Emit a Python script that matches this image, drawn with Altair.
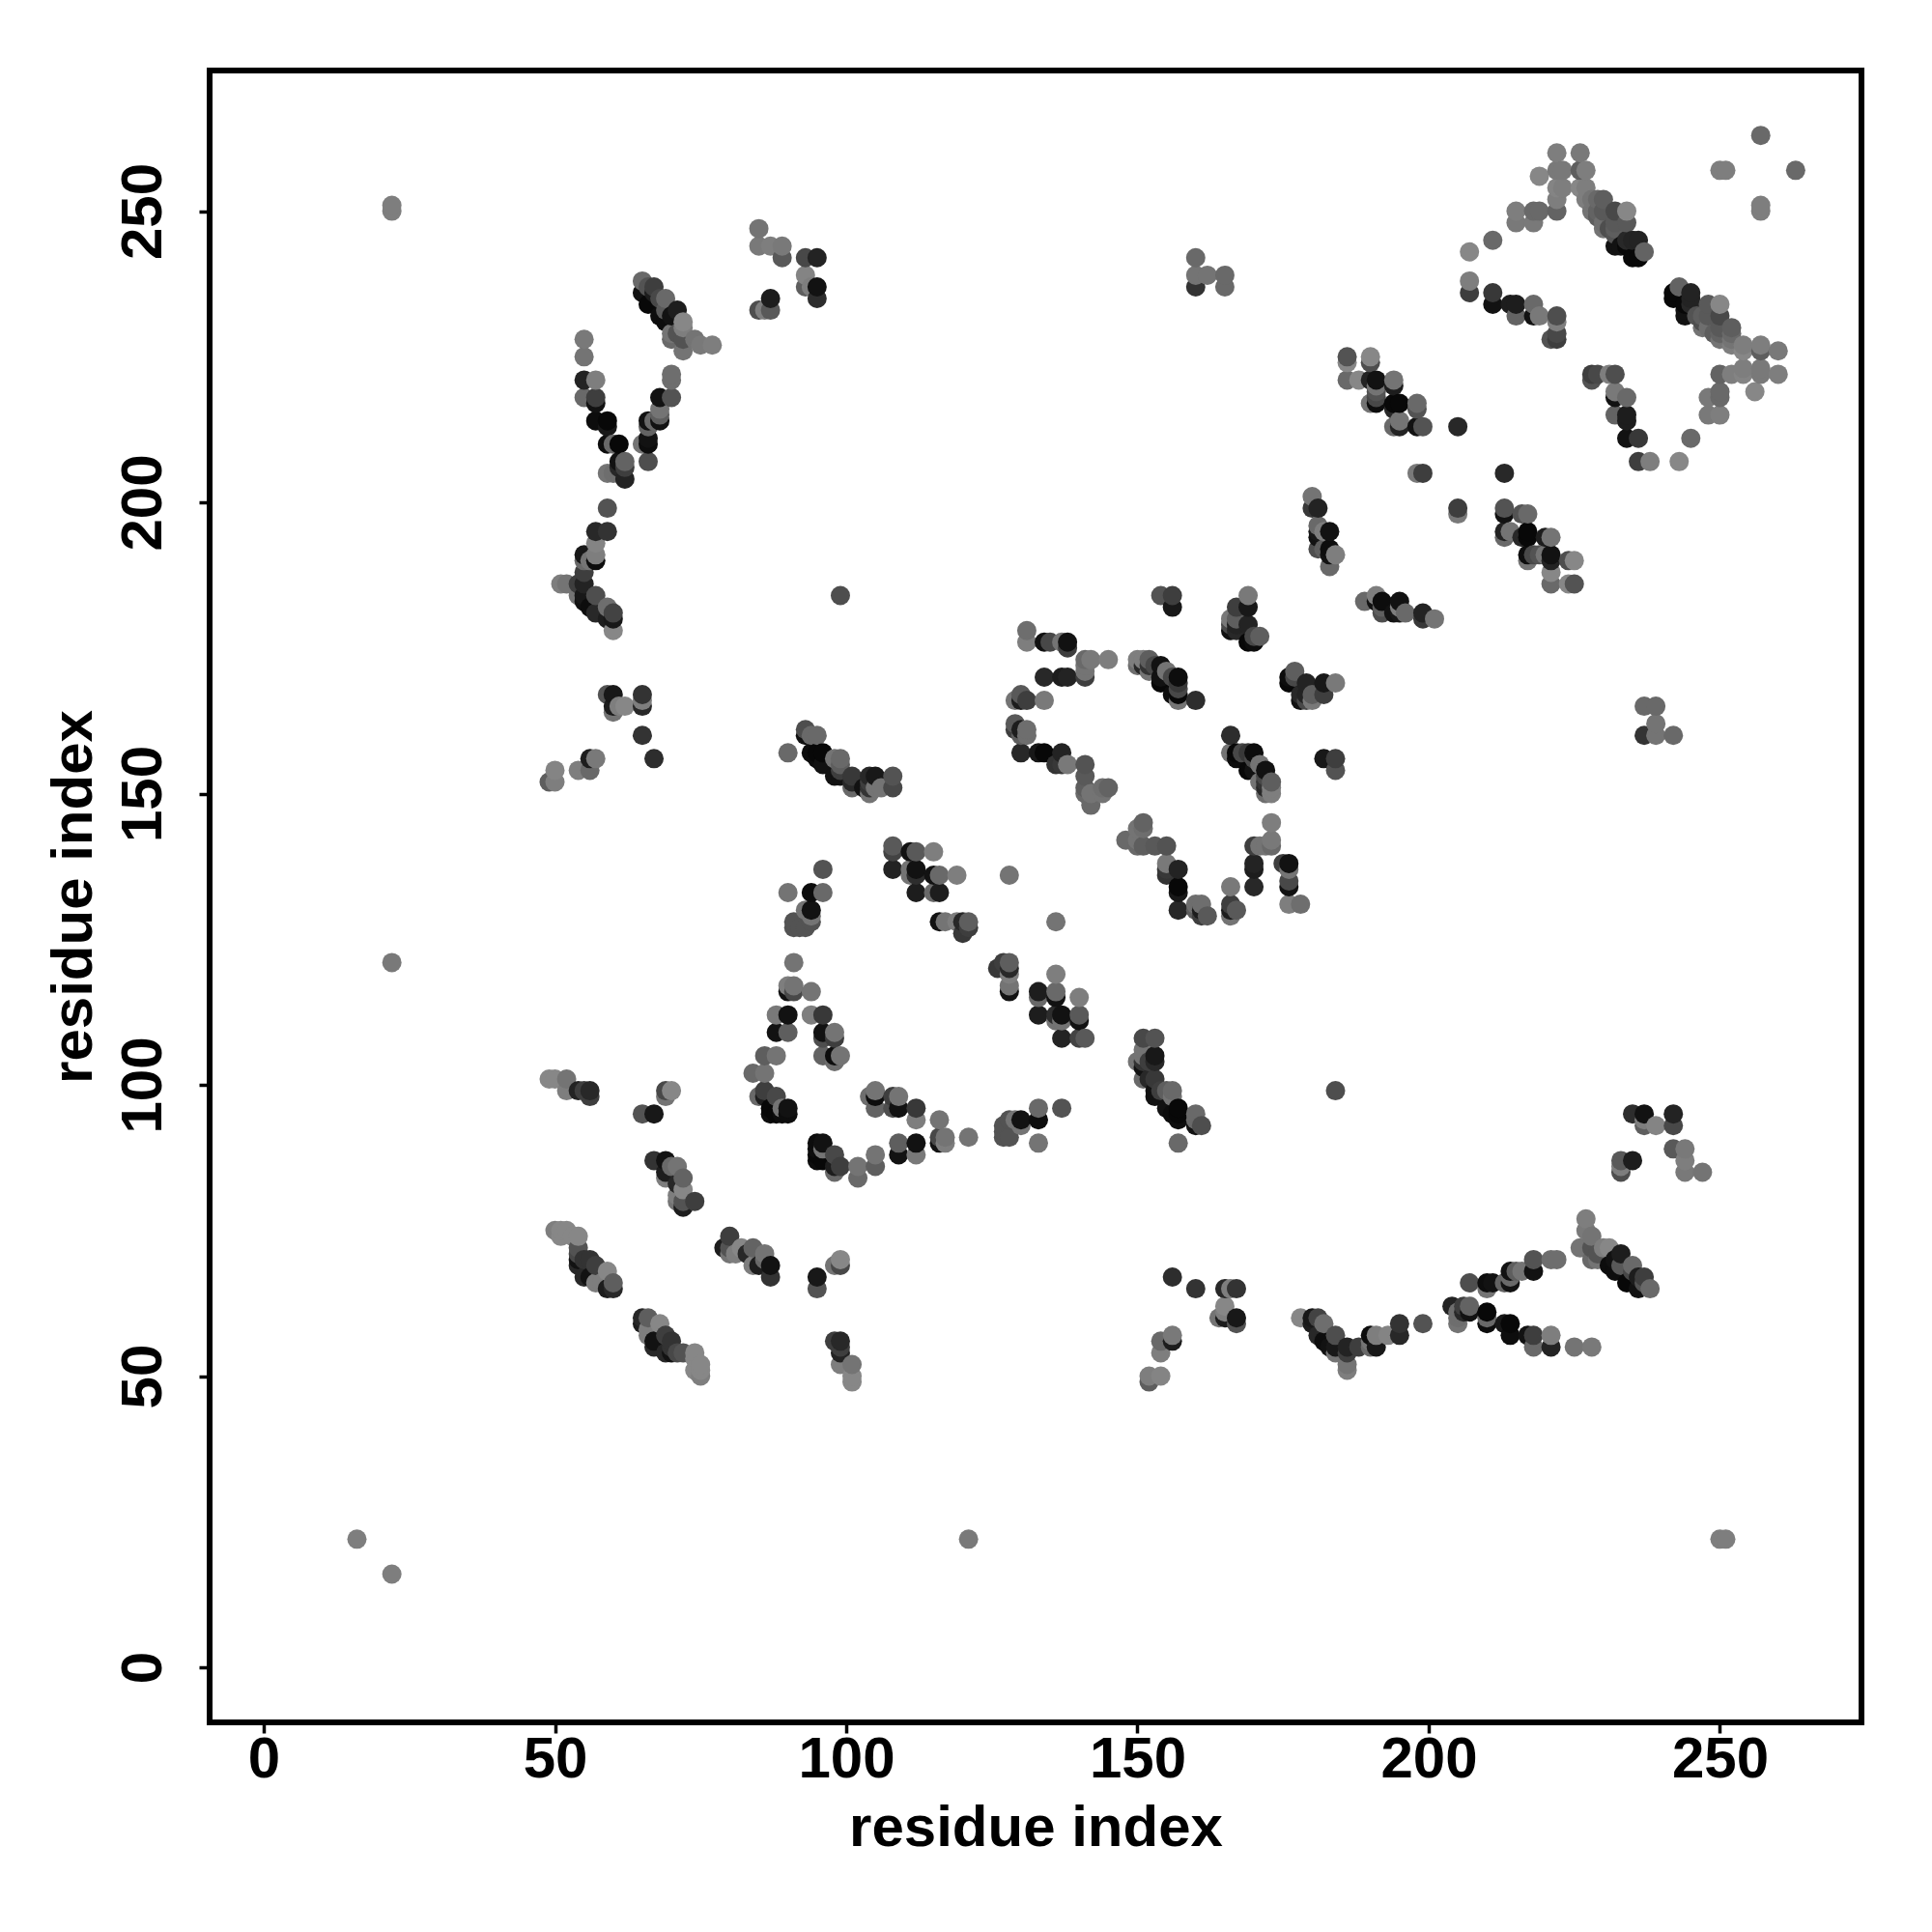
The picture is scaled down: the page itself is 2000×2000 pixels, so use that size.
import altair as alt
import pandas as pd

# contacts: (residue i, residue j, grey level)
far = [(16,22,110),(22,121,105),(22,250,110),(22,251,110),(99,184,65)]
band_a = [(50,75,110),(51,74,128),(52,75,120),(54,74,128),(54,72,70),(54,71,60),(54,70,10),(54,69,30),(55,70,40),(55,67,30),(56,70,40),(56,67,10),(57,69,50),(57,66,110),(58,66,110),(59,68,128),(59,65,20),(60,66,80),(60,65,30),(51,75,120),(53,74,120)]
band_b = [(67,87,40),(69,87,10),(70,86,90),(71,86,100),(69,84,110),(72,84,85),(71,83,30),(72,82,120),(71,81,110),(72,80,70),(74,80,50),(72,79,20),(71,80,100),(80,74,55),(79,72,35),(80,72,110),(81,71,120),(82,72,125),(84,72,90),(83,71,90),(84,69,125),(86,71,85),(85,69,20),(87,69,5),(87,67,30),(86,70,90)]
band_c = [(95,67,15),(95,65,70),(98,69,100),(99,70,128),(99,69,60),(98,56,50),(99,56,30),(99,54,25),(99,52,110),(101,52,100),(101,50,120),(101,49,120)]
ring_low = [(96,90,10),(95,89,5),(95,87,5),(96,87,0),(98,88,60),(98,85,90),(99,86,50),(102,86,100),(102,84,90),(105,88,100),(105,86,80),(109,90,80),(109,88,10),(112,90,10),(112,88,105),(116,94,100),(116,90,10),(117,90,110),(121,91,100),(127,91,70),(128,91,70),(127,92,70),(127,93,70),(128,94,70),(129,94,100),(130,94,10),(130,93,100),(133,94,5),(133,90,100),(133,96,90),(137,96,70)]
ring_left = [(96,137,85),(90,133,100),(94,133,5),(96,133,85),(94,130,10),(93,130,120),(94,128,110),(91,128,60),(91,127,70),(93,127,70),(92,127,70),(91,121,100),(90,117,110),(91,117,100),(90,116,10),(91,116,60),(94,116,100),(88,112,110),(90,112,20),(94,112,110),(96,112,45),(88,109,10),(90,109,75),(96,109,10),(98,109,100),(98,108,50),(96,108,65),(86,105,75),(88,105,85),(96,105,85),(98,105,5),(99,105,100),(98,104,95),(84,102,90),(86,102,100),(86,99,60),(85,98,100),(86,98,20),(88,98,55),(90,96,0),(89,96,100),(87,95,0),(88,95,0),(89,95,5),(90,95,5)]
left_edge = [(49,101,110),(50,101,110),(52,101,100),(52,99,100),(54,99,20),(55,99,50),(56,99,20),(56,98,40),(69,99,70),(70,99,110),(69,98,100),(65,95,70),(67,95,10)]
ring_mid = [(105,99,90),(104,98,100),(105,98,5),(105,96,70),(108,98,80),(109,98,100),(108,96,80),(109,96,10),(112,96,45),(112,94,100),(116,94,90),(108,141,75),(108,140,55),(111,140,10),(112,140,75),(115,140,110),(108,137,25),(111,137,100),(112,137,10),(112,136,35),(115,136,10),(116,136,90),(119,136,110),(128,136,100),(112,133,20),(115,133,90),(116,133,20),(116,128,10),(117,128,100),(119,128,110),(120,128,30),(121,128,80),(120,126,45),(121,127,50),(128,121,75),(126,120,45),(127,121,50),(128,120,45),(128,119,90),(128,117,100),(128,116,10)]
ring_right = [(136,128,100),(136,119,110),(133,116,20),(136,116,90),(133,115,90),(136,115,10),(140,115,110),(133,112,20),(136,112,70),(137,112,15),(140,112,85),(136,111,100),(137,111,90),(140,111,15),(137,108,25),(140,108,60),(141,108,65)]
strand_d = [(151,108,60),(153,108,70),(151,106,100),(153,105,15),(152,104,50),(150,104,100),(151,103,10),(151,101,90),(152,101,30),(153,101,45),(153,98,10),(154,99,50),(155,99,80),(156,99,90),(155,96,10),(156,95,5),(157,96,0),(157,94,5),(160,95,90),(160,93,10),(161,93,65),(157,90,90)]
upper_a = [(131,178,95),(131,176,110),(134,176,10),(135,176,60),(137,176,100),(138,176,10),(138,175,50),(141,173,90),(142,173,105),(145,173,110),(141,172,100),(141,170,50),(134,170,30),(137,170,20),(138,170,25),(130,167,75),(129,166,100),(130,166,20),(131,166,50),(134,166,105),(129,162,75),(129,161,50),(130,161,20),(131,160,95),(130,157,30),(133,157,15),(134,157,0),(137,157,25),(137,155,45),(138,155,105),(136,155,40),(141,155,70),(141,153,75),(141,151,80),(142,150,100),(142,148,90),(144,150,100),(145,151,85),(144,151,95)]
upper_b = [(150,173,110),(151,173,110),(150,172,95),(152,173,80),(152,171,100),(151,172,30),(153,172,60),(154,172,10),(154,170,10),(155,171,100),(156,170,60),(157,170,5),(157,168,60),(154,169,0),(156,167,5),(157,167,0),(157,166,100),(160,166,35),(154,184,70),(156,184,50),(156,182,15)]
upper_c = [(169,184,105),(167,182,50),(169,182,15),(166,180,105),(167,180,80),(169,179,25),(166,179,60),(166,178,10),(167,178,30),(170,177,60),(171,177,80),(169,176,0),(170,176,5),(177,171,75),(176,170,10),(176,169,5),(179,169,20),(182,169,25),(184,169,105),(178,167,25),(179,167,25),(180,167,105),(182,167,60),(179,166,25),(180,166,100),(182,156,15),(184,156,45),(184,154,70)]
upper_d = [(166,160,25),(166,157,100),(167,157,5),(169,157,45),(170,157,10),(167,156,0),(169,154,20),(170,156,10),(171,155,100),(172,154,10),(171,152,100),(173,152,120),(172,152,40),(172,151,30),(173,151,110),(172,150,100),(173,150,110),(173,145,110),(173,142,110),(173,141,100),(172,141,80),(171,141,100),(170,141,50),(170,138,25),(170,137,15),(170,134,30),(175,138,65),(176,138,15),(176,137,110),(176,135,40),(176,134,10),(176,131,105),(178,131,100)]
upper_e = [(166,134,105),(166,131,60),(167,130,75),(166,130,10),(166,129,105),(161,131,95),(160,130,80),(161,129,20),(162,129,60),(157,130,30),(157,137,20),(157,134,5),(157,133,10),(155,138,105),(155,137,30),(151,145,90),(150,144,100),(148,142,100),(150,142,105),(150,141,90),(151,141,70),(153,141,70),(155,141,70)]
col_57 = [(57,195,30),(59,195,40),(57,193,115),(57,191,110),(57,190,5),(55,191,15),(56,190,100),(55,190,90),(55,188,50),(55,186,25),(51,186,110),(52,186,100),(54,186,50),(54,184,100),(55,184,15),(57,184,65),(55,183,10),(56,182,5),(57,181,30),(59,182,95),(60,181,55),(59,180,20),(60,180,15),(60,178,120)]
col_60 = [(59,167,70),(60,167,15),(65,167,40),(65,166,110),(65,165,30),(60,165,20),(61,165,110),(62,165,120),(60,164,100),(65,160,40),(67,156,35),(56,156,20),(57,156,105),(56,154,90),(54,154,110),(50,154,115),(49,152,80),(50,152,110)]
arc_95 = [(93,161,70),(93,160,5),(94,160,90),(95,160,110),(90,157,90),(94,157,0),(95,157,0),(96,157,0),(95,156,110),(96,155,5),(98,156,100),(99,156,100),(99,155,85),(98,153,15),(99,153,10),(101,153,35),(101,151,70),(101,152,35),(104,153,30),(105,153,15),(108,153,45),(108,151,45),(105,151,100),(104,150,80),(104,151,40),(106,151,100)]
top_85 = [(85,247,100),(85,244,105),(87,244,110),(89,244,105),(89,242,75),(93,242,60),(95,242,25),(93,239,115),(93,237,80),(94,237,110),(95,237,10),(95,235,35),(87,235,20),(85,233,65),(86,233,110),(87,233,75)]
diag_65 = [(65,238,90),(66,237,70),(67,237,50),(65,236,10),(66,234,0),(67,236,20),(68,235,60),(69,235,90),(68,232,5),(69,233,75),(71,233,20),(70,232,10),(69,231,5),(72,231,120),(72,230,110),(70,229,100),(71,229,70),(70,228,90),(72,228,70),(72,226,100),(74,228,100),(75,227,105),(77,227,110)]
col_55 = [(55,228,105),(55,225,100),(55,221,25),(57,221,110),(55,218,90),(57,218,50),(57,217,10),(57,214,5),(59,214,0),(59,213,15),(59,210,5),(60,210,90),(61,210,0),(61,207,10),(62,207,85),(61,206,30),(62,206,50),(59,205,100),(60,205,95),(61,205,95),(62,204,25),(59,199,70)]
col_70 = [(70,222,95),(70,221,95),(68,218,10),(70,218,70),(68,216,100),(68,215,80),(68,214,10),(66,214,10),(67,214,90),(66,213,85),(66,211,10),(65,210,100),(66,210,5),(66,207,65)]
block_186 = [(186,225,70),(186,224,120),(190,225,120),(190,224,65),(186,221,90),(188,221,120),(190,221,25),(191,221,10),(194,221,100),(194,220,20),(191,219,70),(191,218,60),(190,217,100),(191,217,5),(194,217,0),(195,217,0),(198,217,90),(198,216,70),(194,216,30),(194,213,90),(195,214,100),(195,213,25),(198,213,10),(199,213,70),(205,213,30),(198,205,105),(199,205,50),(213,205,40),(205,199,40),(205,198,110)]
block_213 = [(213,199,70),(213,198,5),(216,198,70),(217,198,90),(213,195,10),(214,195,100),(213,194,80),(216,194,65),(217,195,5),(217,194,5),(220,194,10),(221,194,90),(217,191,5),(218,191,70),(217,190,100),(220,191,100),(221,191,10),(221,190,10),(221,188,110),(221,186,75),(224,190,80),(225,190,110),(224,186,115),(225,186,60)]
block_180 = [(180,201,100),(180,199,45),(181,199,25),(181,196,90),(181,195,15),(182,195,110),(183,195,10),(181,192,65),(182,192,80),(183,192,5),(184,191,110),(183,189,90),(189,183,100),(191,184,110),(191,183,10),(192,183,5),(195,183,20),(192,181,50),(196,181,70),(199,181,25),(201,180,105),(194,181,10)]
block_228 = [(228,222,50),(229,222,60),(231,222,110),(232,222,65),(228,221,70),(232,219,105),(234,218,90),(232,218,10),(232,215,85),(234,215,20),(234,214,20),(234,211,10),(236,211,45),(236,207,50),(238,207,110),(243,207,120),(245,211,90),(248,215,105),(250,215,110),(248,218,105),(250,219,90),(250,218,90),(256,219,120),(250,222,85),(252,222,110),(254,222,115),(257,222,105),(254,223,110),(257,223,105),(260,222,110),(260,226,105),(257,227,110),(257,226,80),(254,226,120)]
top_right = [(257,263,90),(250,257,110),(251,257,110),(257,250,100),(257,251,110),(222,260,100),(226,260,95),(219,256,110),(222,257,95),(223,257,85),(226,257,85),(227,257,110),(222,254,110),(223,254,115),(226,254,120),(227,254,110),(222,252,115),(222,250,75),(215,250,100),(215,248,85),(218,250,85),(219,250,90),(218,248,105),(211,245,75),(207,243,105),(207,238,95),(207,236,45),(211,236,40),(211,234,15),(214,234,25),(215,234,25),(215,232,70),(218,234,90),(218,232,0),(219,232,110),(222,232,50),(222,231,100),(222,229,70),(221,228,50),(222,228,25)]
diag_228 = [(227,252,110),(229,252,90),(230,252,80),(228,250,100),(230,250,75),(232,250,60),(234,250,120),(229,249,80),(230,248,95),(230,247,100),(231,247,65),(232,248,75),(234,248,75),(232,244,10),(232,246,70),(233,244,10),(234,245,30),(236,245,25),(235,245,25),(235,242,0),(236,242,0),(237,243,85),(234,244,0),(243,237,80),(244,233,15),(245,234,15),(248,234,90),(248,232,80),(247,232,80),(247,230,100),(249,229,80),(250,229,85),(250,230,100),(252,229,90),(250,228,90),(252,228,100)]
top_160 = [(160,242,90),(160,239,100),(160,237,40),(162,239,100),(165,239,90),(165,237,90)]

groups = [far, band_a, band_b, band_c, ring_low, ring_left, left_edge, ring_mid, ring_right, strand_d,
          upper_a, upper_b, upper_c, upper_d, upper_e, col_57, col_60, arc_95, top_85, diag_65, col_55,
          col_70, block_186, block_213, block_180, block_228, top_right, diag_228, top_160]

tick_values = [0, 50, 100, 150, 200, 250]
axis_title = "residue index"

# the map is symmetric: each contact is drawn at (i, j) and (j, i)
contacts = {}
for group in groups:
    for i, j, g in group:
        contacts.setdefault((min(i, j), max(i, j)), g)
rows = []
for (i, j), g in contacts.items():
    level = min(8 + int(g * 1.08), 135)
    colour = "#%02x%02x%02x" % (level, level, level)
    rows.append({"x": i, "y": j, "colour": colour})
    rows.append({"x": j, "y": i, "colour": colour})
df = pd.DataFrame(rows).sort_values(["x", "y"])

FONT = "Liberation Sans"
x_domain = [-9.29, 274.3]
y_domain = [-9.45, 274.14]

x_axis = alt.Axis(values=tick_values, title=axis_title, grid=False, domain=False,
                  tickSize=11, tickWidth=3.5, tickColor="black",
                  labelFont=FONT, labelFontSize=60, labelFontWeight="bold", labelColor="black",
                  labelPadding=-2, labelFlush=False, labelOverlap=False,
                  titleFont=FONT, titleFontSize=60, titleFontWeight="bold", titleColor="black",
                  titlePadding=12)
y_axis = alt.Axis(values=tick_values, title=axis_title, grid=False, domain=False,
                  tickSize=11, tickWidth=3.5, tickColor="black",
                  labelFont=FONT, labelFontSize=60, labelFontWeight="bold", labelColor="black",
                  labelAngle=270, labelAlign="center", labelBaseline="bottom",
                  labelPadding=27, labelFlush=False, labelOverlap=False,
                  titleFont=FONT, titleFontSize=60, titleFontWeight="bold", titleColor="black",
                  titlePadding=11)

chart = (
    alt.Chart(df)
    .mark_circle(size=400, opacity=1)
    .encode(
        x=alt.X("x:Q", scale=alt.Scale(domain=x_domain, nice=False, zero=False), axis=x_axis),
        y=alt.Y("y:Q", scale=alt.Scale(domain=y_domain, nice=False, zero=False), axis=y_axis),
        color=alt.Color("colour:N", scale=None),
    )
    .properties(
        width=1710, height=1710,
        background="white",
        autosize=alt.AutoSizeParams(type="none"),
        padding={"left": 209, "top": 65, "right": 60, "bottom": 190},
    )
    .configure_view(stroke="black", strokeWidth=6, fill="white")
)

chart.save("out.html", embed_options={"renderer": "svg", "actions": False})
